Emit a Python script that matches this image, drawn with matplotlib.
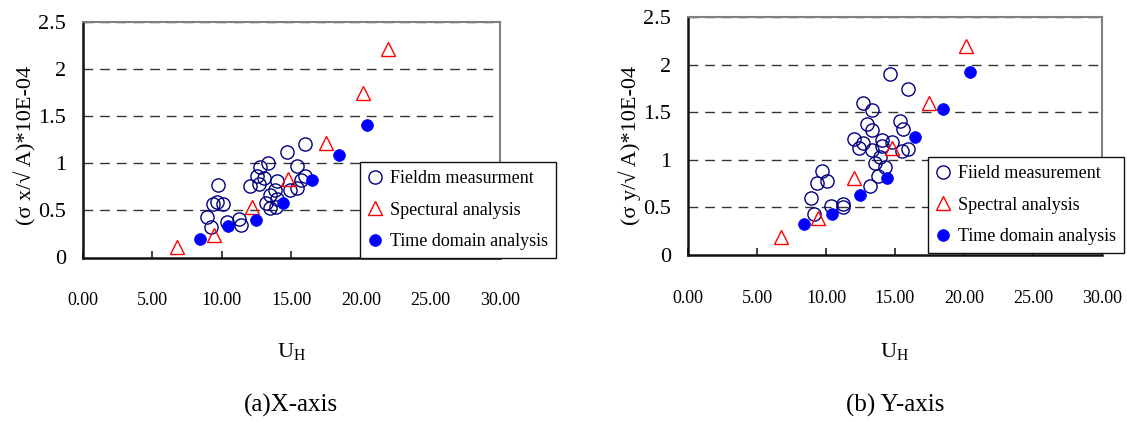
import matplotlib
matplotlib.use("Agg")
import matplotlib.pyplot as plt
from matplotlib.ticker import FixedLocator, FormatStrFormatter

plt.rcParams['font.family'] = ['Liberation Serif', 'DejaVu Serif']
plt.rcParams['mathtext.fontset'] = 'custom'
plt.rcParams['mathtext.rm'] = 'Liberation Serif'

# ---- data: X-axis panel ----
field_x_u = [8.92, 9.21, 9.35, 9.64, 9.76, 10.12, 10.40, 11.27, 11.37, 12.04,
             12.52, 12.71, 12.76, 13.04, 13.35, 13.20, 13.43, 13.47, 13.86, 13.90,
             13.96, 14.00, 14.67, 14.90, 15.40, 15.40, 15.70, 15.99, 15.99]
field_x_s = [0.433, 0.327, 0.565, 0.586, 0.770, 0.565, 0.380, 0.409, 0.345, 0.759,
             0.868, 0.777, 0.964, 0.847, 1.000, 0.575, 0.522, 0.663, 0.717, 0.539,
             0.621, 0.812, 1.123, 0.717, 0.971, 0.735, 0.823, 0.868, 1.205]
spec_x_u = [6.81, 9.45, 12.16, 14.79, 17.50, 20.14, 21.94]
spec_x_s = [0.115, 0.239, 0.533, 0.833, 1.219, 1.743, 2.210]
time_x_u = [8.44, 10.48, 12.47, 14.43, 16.47, 18.46, 20.47]
time_x_s = [0.193, 0.334, 0.398, 0.582, 0.823, 1.088, 1.407]

# ---- data: Y-axis panel ----
field_y_u = [8.89, 9.13, 9.33, 9.73, 10.09, 10.34, 11.21, 11.26, 12.03, 12.39,
             12.66, 12.71, 12.95, 13.19, 13.31, 13.31, 13.31, 13.55, 13.79, 13.91,
             14.04, 14.04, 14.28, 14.64, 14.76, 15.36, 15.60, 15.48, 15.97, 15.97]
field_y_s = [0.595, 0.431, 0.760, 0.882, 0.780, 0.515, 0.533, 0.500, 1.216, 1.121,
             1.593, 1.174, 1.376, 0.730, 1.523, 1.313, 1.100, 0.963, 0.830, 1.030,
             1.208, 1.150, 0.928, 1.901, 1.190, 1.411, 1.320, 1.096, 1.740, 1.110]
spec_y_u = [6.74, 9.44, 12.05, 14.80, 17.49, 20.12]
spec_y_s = [0.192, 0.385, 0.805, 1.120, 1.600, 2.195]
time_y_u = [8.41, 10.46, 12.46, 14.44, 16.45, 18.45, 20.43]
time_y_s = [0.326, 0.431, 0.630, 0.805, 1.236, 1.533, 1.925]

x_ticks = [0, 5, 10, 15, 20, 25, 30]
y_ticks = [0, 0.5, 1, 1.5, 2, 2.5]
y_tick_labels = ['0', '0.5', '1', '1.5', '2', '2.5']

W, H = 1127, 422
fig = plt.figure(figsize=(W / 100, H / 100), dpi=100)


def px_rect(x0, y0, x1, y1):
    return [x0 / W, 1 - y1 / H, (x1 - x0) / W, (y1 - y0) / H]


def panel(rect, fu, fs, su, ss, tu, ts, labels, ylabel, ylabel_x, title, leg_xy):
    ax = fig.add_axes(rect)
    ax.set_xlim(0, 30)
    ax.set_ylim(0, 2.5)
    for g in [0.5, 1.0, 1.5, 2.0, 2.5]:
        ax.axhline(g, color='#333333', lw=1.0, dashes=(7, 5), zorder=1)
    h1, = ax.plot(fu, fs, linestyle='none', marker='o', ms=9.5, mfc='none',
                  mec='#000080', mew=1.0, zorder=3, label=labels[0])
    h2, = ax.plot(su, ss, linestyle='none', marker='^', ms=10, mfc='none',
                  mec='#ff0000', mew=1.0, zorder=4, label=labels[1])
    h3, = ax.plot(tu, ts, linestyle='none', marker='o', ms=8.5, mfc='#0000ff',
                  mec='#0000ff', mew=0.5, zorder=5, label=labels[2])
    ax.xaxis.set_major_locator(FixedLocator(x_ticks))
    ax.xaxis.set_major_formatter(FormatStrFormatter('%.2f'))
    ax.set_yticks(y_ticks)
    ax.set_yticklabels(y_tick_labels)
    ax.tick_params(axis='x', direction='in', length=5, width=1.2, pad=25,
                   labelsize=13, color='#222222')
    ax.tick_params(axis='y', length=0, pad=12, labelsize=16)
    for s in ['left', 'bottom']:
        ax.spines[s].set_color('#111111')
        ax.spines[s].set_linewidth(1.8)
    for s in ['top', 'right']:
        ax.spines[s].set_color('#808080')
        ax.spines[s].set_linewidth(1.5)
    cx = rect[0] + rect[2] / 2
    fig.text(ylabel_x / W, 1 - 145 / H, ylabel, rotation=90, ha='center',
             va='center', fontsize=16)
    fig.text(cx, 1 - 352 / H, r'$\mathrm{U_H}$', ha='center', va='center',
             fontsize=16)
    fig.text(cx, 1 - 405 / H, title, ha='center', va='center', fontsize=18)
    leg = ax.legend(handles=[h1, h2, h3], loc='upper right',
                    bbox_to_anchor=(leg_xy[0] / W, 1 - leg_xy[1] / H),
                    bbox_transform=fig.transFigure, fontsize=13,
                    fancybox=False, framealpha=1, edgecolor='#111111',
                    handlelength=0.8, handletextpad=0.4, labelspacing=0.8,
                    borderpad=0.45, borderaxespad=0)
    leg.get_frame().set_linewidth(1.0)
    leg.set_zorder(10)
    return ax


panel(px_rect(82.7, 22, 500, 257.5), field_x_u, field_x_s, spec_x_u, spec_x_s,
      time_x_u, time_x_s,
      ['Fieldm measurment', 'Spectural analysis', 'Time domain analysis'],
      '(σ x/√ A)*10E-04', 25, '(a)X-axis', (556, 162))

panel(px_rect(688, 17, 1102, 255), field_y_u, field_y_s, spec_y_u, spec_y_s,
      time_y_u, time_y_s,
      ['Fiield measurement', 'Spectral analysis', 'Time domain analysis'],
      '(σ y/√ A)*10E-04', 630, '(b) Y-axis', (1124, 157))

fig.savefig('out.png', dpi=100)
